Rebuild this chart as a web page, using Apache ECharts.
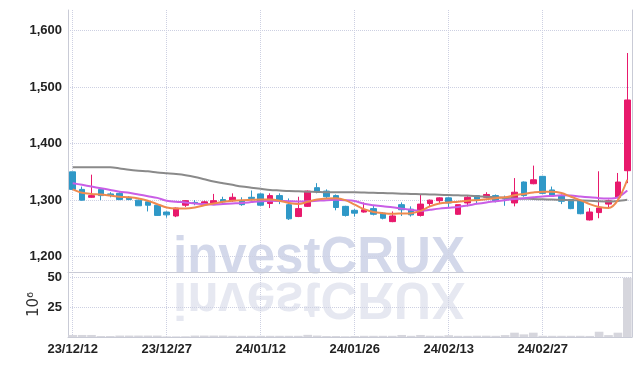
<!DOCTYPE html>
<html><head><meta charset="utf-8">
<script src="https://cdn.jsdelivr.net/npm/echarts@6/dist/echarts.min.js"></script>
<style>html,body{margin:0;padding:0;background:#fff}#c{width:642px;height:366px}</style>
</head><body><div id="c"></div>
<script>
const dates = ['23/12/12','23/12/13','23/12/14','23/12/15','23/12/18','23/12/19','23/12/20','23/12/21','23/12/22','23/12/26',
'23/12/27','23/12/28','24/01/02','24/01/03','24/01/04','24/01/05','24/01/08','24/01/09','24/01/10','24/01/11',
'24/01/12','24/01/15','24/01/16','24/01/17','24/01/18','24/01/19','24/01/22','24/01/23','24/01/24','24/01/25',
'24/01/26','24/01/29','24/01/30','24/01/31','24/02/01','24/02/02','24/02/05','24/02/06','24/02/07','24/02/08',
'24/02/13','24/02/14','24/02/15','24/02/16','24/02/19','24/02/20','24/02/21','24/02/22','24/02/23','24/02/26',
'24/02/27','24/02/28','24/02/29','24/03/04','24/03/05','24/03/06','24/03/07','24/03/08','24/03/11','24/03/12'];
const opens  = [1350,1319,1305,1319,1311,1312,1305,1300,1297,1291,1279,1272,1291,1296,1292,1295,1301,1299,1299,1305,
1311,1294,1308,1292,1271,1289,1322,1316,1308,1289,1282,1279,1285,1277,1262,1292,1284,1273,1294,1299,
1304,1275,1295,1308,1305,1308,1303,1295,1332,1329,1342,1318,1308,1301,1299,1265,1278,1293,1305,1352];
const closes = [1319,1300,1308,1308,1309,1301,1301,1290,1291,1273,1274,1286,1299,1294,1297,1299,1297,1305,1292,1303,
1291,1308,1299,1267,1285,1316,1316,1306,1287,1273,1277,1283,1275,1268,1272,1283,1274,1293,1300,1304,
1295,1292,1305,1301,1310,1298,1302,1314,1308,1336,1312,1309,1298,1285,1276,1279,1286,1299,1332,1477];
const lows   = [1318,1299,1304,1300,1305,1300,1300,1290,1280,1272,1269,1270,1288,1291,1290,1293,1293,1297,1290,1299,
1290,1286,1293,1265,1270,1288,1312,1303,1282,1271,1271,1278,1273,1266,1261,1272,1271,1271,1289,1293,
1286,1274,1289,1293,1303,1296,1290,1289,1306,1328,1311,1308,1293,1284,1275,1264,1268,1285,1303,1330];
const highs  = [1350,1324,1345,1321,1314,1314,1307,1301,1298,1292,1280,1287,1300,1300,1299,1311,1306,1312,1305,1317,
1312,1312,1312,1303,1306,1317,1330,1319,1310,1290,1284,1296,1290,1279,1280,1296,1289,1310,1301,1305,
1305,1292,1307,1309,1314,1310,1308,1339,1333,1361,1343,1324,1310,1302,1300,1286,1351,1301,1348,1560];
const maShort = [1319,1313,1311,1310,1308,1306,1305,1303,1299,1293,1287,1285,1285,1287,1291,1294,1297,1299,1300,1300.5,
1301,1301,1299,1295,1293,1297,1301,1303,1303.5,1300,1292,1284,1279,1277,1276,1276.5,1277,1281,1289,1294,
1296,1297,1299,1300,1301.5,1303.5,1305,1308.5,1311,1313.5,1315,1315,1312.5,1306,1300,1293,1288,1286,1300,1336];
const maMid = [1330,1327,1324,1321,1318,1315,1313,1310,1307,1304,1299,1297,1296,1294,1293,1292,1293,1294,1295,1296.5,
1298,1299,1298.5,1298,1297.5,1298,1299,1300,1300.5,1300,1298.5,1293.5,1291,1289,1287.5,1285,1283,1281,1283,1285,
1286.5,1288,1290.5,1293.5,1296,1298,1300,1302,1303.5,1305,1306.5,1307.5,1308.5,1308,1306.5,1305,1303.5,1303,1305,1317];
const maLong = [1358,1358,1358,1358,1358,1356,1353.5,1352,1351,1349,1347.5,1346,1344,1341,1337,1333,1330,1327,1324,1322,
1320,1318,1317,1316,1315.5,1315,1314.5,1314,1314,1314,1314,1313.5,1313,1312.5,1312,1311.5,1311,1310.5,1310,1309.5,
1309,1308.5,1308,1307,1306,1305,1304,1303,1302.5,1302,1301.5,1301,1300.5,1300,1299.5,1299,1298,1297.5,1298.5,1300.5];
const volumes = [1.7,1.7,1.7,0.8,0.8,1.2,1.2,1.2,1.2,1.2,0.5,0.5,0.6,1.2,1.2,1.2,1.2,1.0,1.0,1.0,
1.0,1.0,1.0,1.0,1.0,1.8,1.2,0.8,0.8,0.6,0.8,1.0,1.0,1.0,1.0,1.7,1.0,1.7,1.1,1.0,
1.5,1.0,1.0,1.1,1.1,1.0,1.6,3.6,2.2,3.6,1.0,1.0,1.0,1.0,1.0,0.9,4.4,1.6,3.6,49.4];
const priceTicksFmt = v => v.toLocaleString('en-US');

const candles = dates.map((d, i) => [opens[i], closes[i], lows[i], highs[i]]);
const FONT = '"Liberation Sans", Arial, sans-serif';
const gl = { color: '#cdd0e2', type: 'dotted', width: 1 };
const axisLineStyle = { color: '#c9cbd6', width: 1 };
const lbl = { fontFamily: FONT, fontWeight: 'bold', fontSize: 13, color: '#222' };
const wmStyle = { text: 'investCRUX', fontFamily: '"Liberation Sans", Arial, sans-serif', fontWeight: 'bold', fontSize: 51, align: 'center', verticalAlign: 'middle' };

const chart = echarts.init(document.getElementById('c'));
chart.setOption({
  animation: false,
  grid: [
    { left: 68, right: 10, top: 10, height: 262 },
    { left: 68, right: 10, top: 272, height: 65 }
  ],
  graphic: [
    { type: 'text', z: -10, x: 319, y: 259, style: Object.assign({ fill: '#d3d8ea' }, wmStyle) },
    { type: 'group', z: -10, x: 0, y: 279, scaleY: -1, children: [
      { type: 'text', x: 319, y: -18, style: Object.assign({ fill: '#e6e8f1' }, wmStyle) }
    ] }
  ],
  xAxis: [
    { type: 'category', gridIndex: 0, data: dates, boundaryGap: true,
      axisLine: { show: true, lineStyle: axisLineStyle }, axisTick: { show: false }, axisLabel: { show: false },
      splitLine: { show: true, interval: 9, alignWithLabel: true, lineStyle: gl } },
    { type: 'category', gridIndex: 1, data: dates, boundaryGap: true,
      axisLine: { show: true, lineStyle: axisLineStyle }, axisTick: { show: false },
      axisLabel: Object.assign({ interval: 9, margin: 6 }, lbl),
      splitLine: { show: true, interval: 9, alignWithLabel: true, lineStyle: gl } }
  ],
  yAxis: [
    { type: 'value', gridIndex: 0, min: 1173, max: 1636, scale: true,
      axisLine: { show: true, lineStyle: axisLineStyle }, axisTick: { show: false },
      axisLabel: Object.assign({ margin: 6, showMinLabel: false, showMaxLabel: false, formatter: priceTicksFmt }, lbl),
      splitLine: { show: true, showMinLine: false, showMaxLine: false, lineStyle: gl } },
    { type: 'value', gridIndex: 1, min: 0, max: 54.2, interval: 25,
      name: '10\u2076', nameLocation: 'middle', nameRotate: 90, nameGap: 26, nameMoveOverlap: false,
      nameTextStyle: { fontFamily: 'DejaVu Sans', fontSize: 15, color: '#333' },
      axisLine: { show: true, lineStyle: axisLineStyle }, axisTick: { show: false },
      axisLabel: Object.assign({ margin: 6, showMinLabel: false, showMaxLabel: false }, lbl),
      splitLine: { show: true, showMinLine: false, showMaxLine: false, lineStyle: gl } },
    { type: 'value', gridIndex: 0, position: 'right', min: 0, max: 1,
      axisLine: { show: true, lineStyle: axisLineStyle }, axisTick: { show: false }, axisLabel: { show: false }, splitLine: { show: false } },
    { type: 'value', gridIndex: 1, position: 'right', min: 0, max: 1,
      axisLine: { show: true, lineStyle: axisLineStyle }, axisTick: { show: false }, axisLabel: { show: false }, splitLine: { show: false } }
  ],
  series: [
    { type: 'candlestick', xAxisIndex: 0, yAxisIndex: 0, data: candles, barWidth: '64%',
      itemStyle: { color: '#e8196c', color0: '#2f98c7', borderColor: '#e8196c', borderColor0: '#2f98c7', borderWidth: 1 } },
    { type: 'line', xAxisIndex: 0, yAxisIndex: 0, data: maLong, showSymbol: false, smooth: 0.3,
      lineStyle: { color: '#8a8a8a', width: 2 } },
    { type: 'line', xAxisIndex: 0, yAxisIndex: 0, data: maMid, showSymbol: false, smooth: 0.3,
      lineStyle: { color: '#c95ee6', width: 2 } },
    { type: 'line', xAxisIndex: 0, yAxisIndex: 0, data: maShort, showSymbol: false, smooth: 0.3,
      lineStyle: { color: '#ef8a4e', width: 2 } },
    { type: 'bar', xAxisIndex: 1, yAxisIndex: 1, data: volumes, barWidth: '92%',
      itemStyle: { color: '#d6d6dd' } }
  ]
});
</script></body></html>
